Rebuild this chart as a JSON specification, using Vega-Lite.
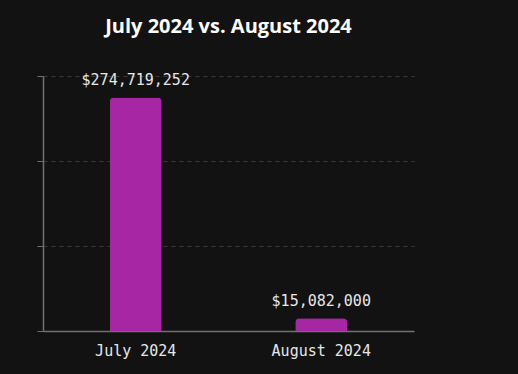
{
  "$schema": "https://vega.github.io/schema/vega-lite/v6.json",
  "width": 371,
  "height": 255,
  "autosize": {"type": "none"},
  "padding": {"left": 43, "top": 76, "right": 104, "bottom": 43},
  "background": "#121212",
  "title": {
    "text": "July 2024 vs. August 2024",
    "font": "Open Sans",
    "fontSize": 20,
    "fontWeight": "bold",
    "color": "#ffffff",
    "anchor": "middle",
    "offset": 36
  },
  "data": {
    "values": [
      {"month": "July 2024", "amount": 274719252},
      {"month": "August 2024", "amount": 15082000}
    ]
  },
  "config": {
    "view": {"stroke": null},
    "axis": {
      "labelFont": "DejaVu Sans Mono",
      "labelFontSize": 15,
      "labelColor": "#e6e6e6",
      "domainColor": "#707070",
      "tickColor": "#707070",
      "gridColor": "#3a3a3a",
      "gridDash": [4, 4]
    }
  },
  "encoding": {
    "x": {
      "field": "month",
      "type": "nominal",
      "sort": null,
      "scale": {"paddingInner": 0, "paddingOuter": 0},
      "axis": {"title": null, "labelAngle": 0, "ticks": false, "labelPadding": 12, "domainWidth": 1.5}
    },
    "y": {
      "field": "amount",
      "type": "quantitative",
      "scale": {"domain": [0, 300000000], "nice": false},
      "axis": {"title": null, "labels": false, "values": [0, 100000000, 200000000, 300000000], "tickSize": 6, "domainWidth": 1.5, "grid": true}
    }
  },
  "layer": [
    {
      "mark": {"type": "bar", "size": 52, "color": "#a626a4", "cornerRadiusTopLeft": 4, "cornerRadiusTopRight": 4}
    },
    {
      "mark": {"type": "text", "font": "DejaVu Sans Mono", "fontSize": 15, "color": "#e6e6e6", "baseline": "bottom", "dy": -9},
      "encoding": {
        "text": {"field": "amount", "type": "quantitative", "format": "$,.0f"}
      }
    }
  ]
}
